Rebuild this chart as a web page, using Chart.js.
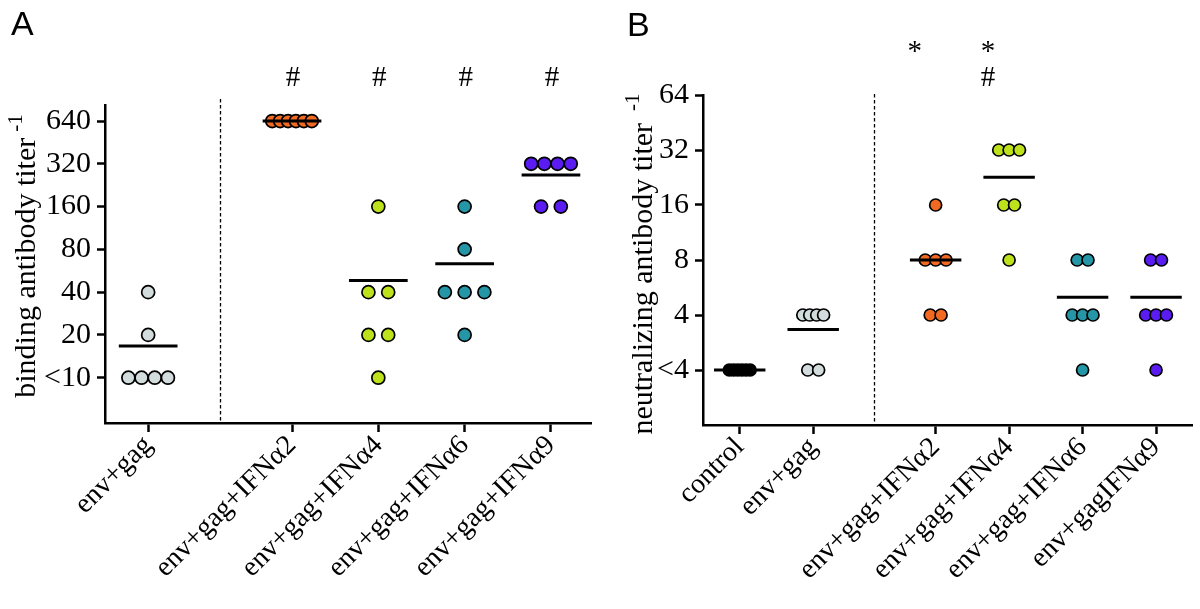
<!DOCTYPE html>
<html><head><meta charset="utf-8">
<script src="https://cdn.jsdelivr.net/npm/chart.js@4"></script>
<style>
html,body{margin:0;padding:0;background:#fff;width:1200px;height:609px;overflow:hidden}
canvas{position:absolute;top:0}
#cA{left:0}#cB{left:600px}
</style></head><body>
<canvas id="cA" width="600" height="609"></canvas>
<canvas id="cB" width="600" height="609"></canvas>
<script>
// ---------- Panel A: binding antibody titers (10 = "<10") ----------
const bindGroups = ['env+gag', 'env+gag+IFNα2', 'env+gag+IFNα4', 'env+gag+IFNα6', 'env+gag+IFNα9'];
const bindEnvGag = [40, 20, 10, 10, 10, 10];
const bindIFNa2  = [640, 640, 640, 640, 640, 640];
const bindIFNa4  = [160, 40, 40, 20, 20, 10];
const bindIFNa6  = [160, 80, 40, 40, 40, 20];
const bindIFNa9  = [320, 320, 320, 320, 160, 160];
const bindMeans  = [16.7, 640, 48.3, 63.3, 266.7];
const bindTicks  = [10, 20, 40, 80, 160, 320, 640];
const bindTickLabels = ['<10', '20', '40', '80', '160', '320', '640'];
const bindMarks  = ['', '#', '#', '#', '#'];

// ---------- Panel B: neutralizing antibody titers (2 = "<4") ----------
const neutGroups = ['control', 'env+gag', 'env+gag+IFNα2', 'env+gag+IFNα4', 'env+gag+IFNα6', 'env+gagIFNα9'];
const neutControl = [2, 2, 2, 2, 2, 2];
const neutEnvGag  = [4, 4, 4, 4, 2, 2];
const neutIFNa2   = [16, 8, 8, 8, 4, 4];
const neutIFNa4   = [32, 32, 32, 16, 16, 8];
const neutIFNa6   = [8, 8, 4, 4, 4, 2];
const neutIFNa9   = [8, 8, 4, 4, 4, 2];
const neutMeans   = [2, 3.33, 8, 22.67, 5, 5];
const neutTicks   = [2, 4, 8, 16, 32, 64];
const neutTickLabels = ['<4', '4', '8', '16', '32', '64'];
const neutMarksTop    = ['', '', '*', '*', '', ''];
const neutMarksBottom = ['', '', '', '#', '', ''];

const GREY = '#d2dcdc', ORANGE = '#f26a22', LIME = '#bde21c', TEAL = '#2496a6', PURPLE = '#5a1cf0', BLACK = '#000000';
const SERIF = '"Liberation Serif", "Times New Roman", serif';

function jitter(vals, step, spread) {
  const counts = {}; vals.forEach(v => counts[v] = (counts[v] || 0) + 1);
  const seen = {};
  return vals.map(v => {
    const n = counts[v];
    const k = seen[v] = (seen[v] === undefined ? 0 : seen[v] + 1);
    const s = n > 1 ? Math.min(step, spread / (n - 1)) : 0;
    return (k - (n - 1) / 2) * s;
  });
}

function makeChart(id, c) {
  const pos = i => i + (i >= c.firstTreated ? 2 / 3 : 0);
  const sepPos = c.firstTreated - 1 + 5 / 6;
  const datasets = [];
  c.means.forEach((m, i) => {
    datasets.push({
      type: 'scatter', showLine: true, order: 1, clip: false,
      data: [{x: pos(i) - c.halfMean, y: m}, {x: pos(i) + c.halfMean, y: m}],
      borderColor: '#000', borderWidth: 3, pointRadius: 0
    });
  });
  c.values.forEach((vals, i) => {
    const off = jitter(vals, c.step, c.spread);
    datasets.push({
      type: 'scatter', order: 2, clip: false,
      data: vals.map((v, k) => ({x: pos(i) + off[k], y: v})),
      backgroundColor: c.colors[i], borderColor: '#000', borderWidth: 1.7,
      pointRadius: c.radius
    });
  });

  const extras = {
    id: 'extras',
    afterDraw(chart) {
      const ctx = chart.ctx, a = chart.chartArea;
      const xs = chart.scales.x;
      ctx.save();
      // separator
      const sx = Math.round(xs.getPixelForValue(sepPos)) + 0.5;
      ctx.strokeStyle = '#000'; ctx.lineWidth = 1.3; ctx.setLineDash([3.5, 2.5]);
      ctx.beginPath(); ctx.moveTo(sx, a.top - c.sepExtra); ctx.lineTo(sx, a.bottom); ctx.stroke();
      ctx.setLineDash([]);
      // panel letter
      ctx.fillStyle = '#000';
      ctx.font = '34px "Liberation Sans", Arial, sans-serif';
      ctx.textBaseline = 'top'; ctx.textAlign = 'left';
      ctx.fillText(c.letter, c.letterX, c.letterY);
      // significance marks
      ctx.font = '29px ' + SERIF;
      ctx.textAlign = 'center'; ctx.textBaseline = 'middle';
      c.marks.forEach(row => {
        row.labels.forEach((t, i) => {
          if (!t) return;
          ctx.fillText(t, xs.getPixelForValue(pos(i)) + c.markDx, row.y);
        });
      });
      // y title with superscript
      ctx.translate(c.titleX, c.titleCY);
      ctx.rotate(-Math.PI / 2);
      ctx.textBaseline = 'alphabetic'; ctx.textAlign = 'left';
      ctx.font = '30px ' + SERIF;
      const w = ctx.measureText(c.title).width;
      ctx.font = '21px ' + SERIF;
      const ws = ctx.measureText('-1').width;
      const start = -(w + c.supGap + ws) / 2;
      ctx.font = '30px ' + SERIF;
      ctx.fillText(c.title, start, 0);
      ctx.font = '21px ' + SERIF;
      ctx.fillText('-1', start + w + c.supGap, -13);
      ctx.restore();
    }
  };

  return new Chart(document.getElementById(id), {
    type: 'scatter',
    data: {datasets},
    plugins: [extras],
    options: {
      responsive: false, animation: false, events: [],
      layout: {padding: {left: 0, top: c.top, right: 2, bottom: 0}},
      plugins: {legend: {display: false}, tooltip: {enabled: false}},
      scales: {
        x: {
          type: 'linear', min: -0.5, max: c.xMax,
          afterFit: s => { s.height = 609 - c.bottom; },
          afterBuildTicks: s => { s.ticks = c.groups.map((g, i) => ({value: pos(i)})); },
          ticks: {autoSkip: false, minRotation: 45, maxRotation: 45, padding: -3, color: '#000',
                  font: {family: SERIF, size: 28},
                  callback: (v, idx) => c.groups[idx]},
          grid: {drawOnChartArea: false, drawTicks: true, tickLength: 9, tickColor: '#000', tickWidth: 2.5},
          border: {display: true, color: '#000', width: 2.5}
        },
        y: {
          type: 'logarithmic', min: c.yMin, max: c.yMax,
          afterFit: s => { s.width = c.left; },
          afterBuildTicks: s => { s.ticks = c.ticks.map(v => ({value: v})); },
          ticks: {autoSkip: false, padding: 6, color: '#000', font: {family: SERIF, size: 30},
                  callback: (v, idx) => c.tickLabels[idx]},
          grid: {drawOnChartArea: false, drawTicks: true, tickLength: 8, tickColor: '#000', tickWidth: 2.5},
          border: {display: true, color: '#000', width: 2.5}
        }
      }
    }
  });
}

makeChart('cA', {
  groups: bindGroups,
  values: [bindEnvGag, bindIFNa2, bindIFNa4, bindIFNa6, bindIFNa9],
  means: bindMeans,
  colors: [GREY, ORANGE, LIME, TEAL, PURPLE],
  ticks: bindTicks, tickLabels: bindTickLabels,
  yMin: 4.8, yMax: 830, xMax: 5.14, firstTreated: 1,
  step: 0.229, spread: 0.458, halfMean: 0.34, radius: 6.5,
  left: 105, top: 105, bottom: 423, sepExtra: 6,
  letter: 'A', letterX: 11, letterY: 9,
  marks: [{y: 78, labels: bindMarks}], markDx: 1,
  title: 'binding antibody titer', titleX: 35, titleCY: 256, supGap: 6
});

makeChart('cB', {
  groups: neutGroups,
  values: [neutControl, neutEnvGag, neutIFNa2, neutIFNa4, neutIFNa6, neutIFNa9],
  means: neutMeans,
  colors: [BLACK, GREY, ORANGE, LIME, TEAL, PURPLE],
  ticks: neutTicks, tickLabels: neutTickLabels,
  yMin: 1, yMax: 64, xMax: 6.16, firstTreated: 2,
  step: 0.148, spread: 0.283, halfMean: 0.35, radius: 6,
  left: 103, top: 95, bottom: 425, sepExtra: 1,
  letter: 'B', letterX: 27, letterY: 10,
  marks: [{y: 52, labels: neutMarksTop}, {y: 78, labels: neutMarksBottom}], markDx: -21,
  title: 'neutralizing antibody titer', titleX: 52, titleCY: 264, supGap: 12
});
</script>
</body></html>
